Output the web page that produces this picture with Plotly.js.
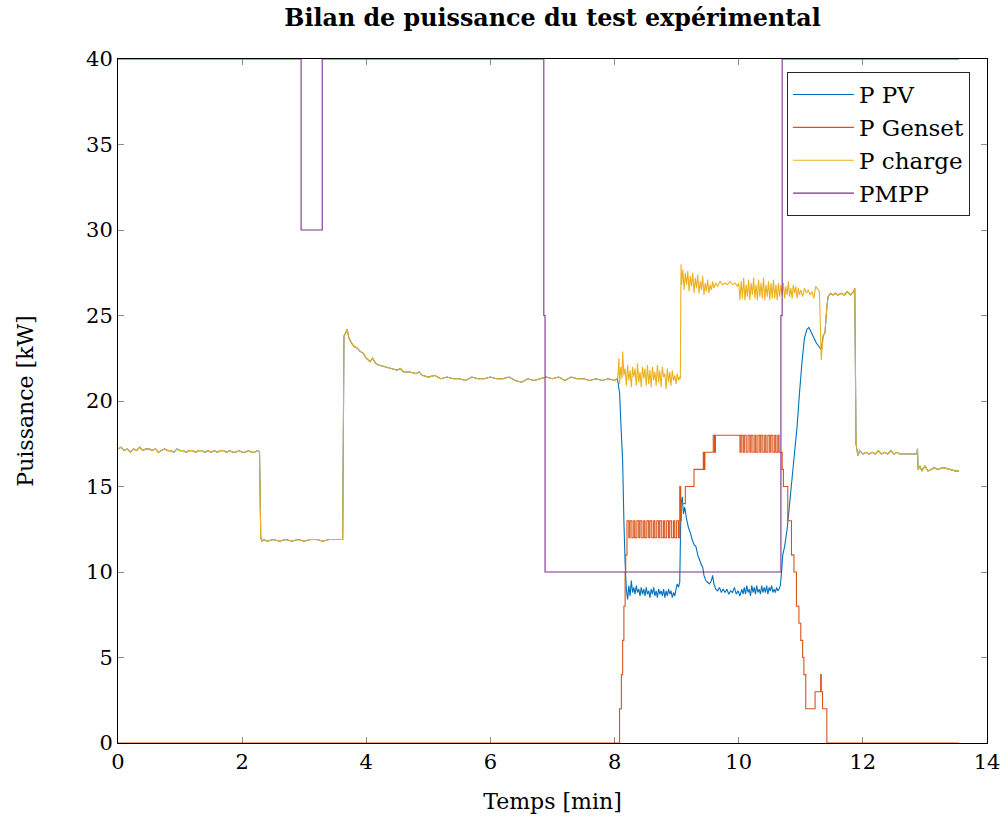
<!DOCTYPE html>
<html>
<head>
<meta charset="utf-8">
<script src="https://cdn.plot.ly/plotly-3.0.1.min.js"></script>
<style>html,body{margin:0;padding:0;background:#fff;}#chart{width:1003px;height:822px;}</style>
</head>
<body>
<div id="chart"></div>
<script>
// ---- Data ----
// Shared segment: PV and load are identical before the genset starts (time in min, power in kW)
const commonEarlyT = [0,0.05,0.1,0.15,0.2,0.25,0.3,0.35,0.4,0.45,0.5,0.55,0.6,0.65,0.7,0.75,0.8,0.85,0.9,0.95,1.0,1.05,1.1,1.15,1.2,1.25,1.3,1.35,1.4,1.45,1.5,1.55,1.6,1.65,1.7,1.75,1.8,1.85,1.9,1.95,2.0,2.05,2.1,2.15,2.2,2.25,2.28,
  2.30,2.32,2.35,2.4,2.5,2.6,2.7,2.8,2.9,3.0,3.1,3.2,3.3,3.4,3.5,3.6,3.62,
  3.64,3.67,3.69,3.72,3.76,3.80,3.85,3.90,3.95,4.0,4.06,4.10,4.15,4.2,4.3,4.4,4.5,4.55,4.6,4.7,4.8,4.85,4.9,5.0,5.1,5.2,5.3,5.4,5.5,5.6,5.7,5.8,5.9,6.0,6.1,6.2,6.3,6.4,6.5,6.6,6.7,6.8,6.9,7.0,7.1,7.2,7.3,7.4,7.5,7.6,7.7,7.8,7.9,8.0,8.04];
const commonEarlyP = [17.2,17.3,17.1,17.2,17.0,17.2,17.1,17.3,17.1,17.2,17.2,17.1,17.2,17.0,17.1,17.2,17.1,17.1,17.0,17.2,17.1,17.1,17.0,17.1,17.1,17.0,17.1,17.1,17.0,17.1,17.0,17.1,17.0,17.1,17.1,17.0,17.1,17.0,17.0,17.1,17.0,17.0,17.1,17.0,17.0,17.1,17.0,
  12.0,11.8,11.9,11.8,11.9,11.8,11.9,11.8,11.9,11.8,11.9,11.9,11.8,11.9,11.9,11.9,11.9,
  23.8,24.0,24.2,23.7,23.4,23.2,23.1,22.9,22.8,22.5,22.3,22.5,22.2,22.1,22.0,21.9,21.8,21.9,21.7,21.7,21.6,21.7,21.5,21.4,21.5,21.3,21.4,21.3,21.3,21.2,21.4,21.3,21.3,21.4,21.3,21.3,21.4,21.2,21.1,21.3,21.2,21.3,21.4,21.3,21.4,21.2,21.4,21.3,21.3,21.2,21.3,21.2,21.3,21.2,21.3];

// Shared segment after the genset stops
const commonLateT = [11.44,11.48,11.52,11.56,11.6,11.65,11.7,11.75,11.8,11.85,11.87,11.89,11.92,11.95,12.0,12.05,12.1,12.15,12.2,12.25,12.3,12.35,12.4,12.45,12.5,12.55,12.6,12.7,12.8,12.87,12.88,12.89,12.92,12.95,13.0,13.05,13.1,13.15,13.2,13.3,13.4,13.5,13.55];
const commonLateP = [26.1,26.3,26.2,26.3,26.2,26.3,26.2,26.4,26.2,26.4,26.6,17.5,16.8,17.1,16.9,17.0,16.9,17.0,16.9,17.1,16.9,17.0,16.9,17.1,16.9,17.0,16.9,16.9,16.9,16.9,17.2,16.0,16.2,15.9,16.2,15.9,16.0,16.1,16.0,16.1,16.0,15.9,15.9];

// P PV, middle segment
const pvMidT = [8.05,8.08,8.11,8.13,8.15,8.17,8.19,8.21,8.23,8.25,8.27,8.29,8.31,8.33,8.35,8.37,8.39,8.41,8.43,8.45,8.47,8.49,8.51,8.53,8.55,8.57,8.59,8.61,8.63,8.65,8.67,8.69,8.71,8.73,8.75,8.77,8.79,8.81,8.83,8.85,8.87,8.89,8.91,8.93,8.95,8.97,8.99,9.01,9.03,9.05,
  9.07,9.09,9.11,9.13,9.16,9.19,9.22,9.25,9.28,9.31,9.34,9.37,9.40,9.42,9.44,9.47,9.50,9.53,9.56,9.58,9.60,9.63,9.66,9.69,9.72,9.75,9.78,9.81,9.84,9.87,9.90,9.93,9.96,9.99,
  10.02,10.05,10.07,10.09,10.11,10.13,10.15,10.17,10.19,10.21,10.23,10.25,10.27,10.29,10.31,10.33,10.35,10.37,10.39,10.41,10.43,10.45,10.47,10.49,10.51,10.53,10.55,10.57,10.59,10.61,10.63,10.65,10.67,
  10.69,10.71,10.74,10.78,10.82,10.86,10.90,10.94,10.98,11.02,11.06,11.10,11.13,11.17,11.21,11.25,11.29,11.33,11.36,11.39,11.42];
const pvMidP = [21.2,20.5,18.0,16.5,13.0,10.5,9.0,8.4,9.2,8.6,9.5,8.8,9.1,8.7,9.2,8.8,9.0,8.6,9.1,8.7,9.0,8.6,9.1,8.7,8.9,8.5,9.0,8.7,9.1,8.6,8.9,8.5,9.0,8.7,8.9,8.6,9.0,8.5,8.9,8.6,9.0,8.7,8.9,8.5,8.8,8.6,9.0,9.3,9.1,9.4,
  14.0,14.4,13.4,13.8,13.1,12.6,12.3,11.9,11.6,11.5,11.0,10.7,10.4,10.3,9.8,9.5,9.4,9.3,9.5,9.8,9.3,9.0,8.9,9.1,8.8,9.0,8.8,9.0,8.7,8.9,8.8,9.1,8.7,8.9,
  8.6,9.0,8.7,9.1,8.7,9.2,8.8,9.0,8.6,9.2,8.8,9.1,8.7,9.2,8.8,9.0,8.7,9.2,8.8,9.1,8.8,9.2,8.7,9.1,8.9,9.2,8.8,9.0,8.8,9.1,8.9,9.0,9.2,
  10.0,11.0,11.5,12.5,14.0,15.5,17.0,18.5,20.5,22.3,23.7,24.2,24.3,24.0,23.7,23.4,23.2,23.0,23.8,24.0,25.5];

// P charge (load), middle segment
const loadMidT = [8.05,8.07,8.08,8.10,8.12,8.13,8.15,8.17,8.19,8.21,8.23,8.25,8.27,8.29,8.31,8.33,8.35,8.37,8.39,8.41,8.43,8.45,8.47,8.49,8.51,8.53,8.55,8.57,8.59,8.61,8.63,8.65,8.67,8.69,8.71,8.73,8.75,8.77,8.79,8.81,8.83,8.85,8.87,8.89,8.91,8.93,8.95,8.97,8.99,9.01,9.03,9.05,9.06,
  9.07,9.08,9.10,9.12,9.14,9.16,9.18,9.20,9.22,9.24,9.26,9.28,9.30,9.32,9.34,9.36,9.38,9.40,9.42,9.44,9.46,9.48,9.50,9.52,9.54,9.56,9.58,9.60,9.63,9.66,9.70,9.74,9.78,9.82,9.86,9.90,9.94,9.98,10.00,
  10.02,10.04,10.06,10.08,10.10,10.12,10.14,10.16,10.18,10.20,10.22,10.24,10.26,10.28,10.30,10.32,10.34,10.36,10.38,10.40,10.42,10.44,10.46,10.48,10.50,10.52,10.54,10.56,10.58,10.60,10.62,10.64,10.66,
  10.68,10.70,10.72,10.74,10.76,10.78,10.80,10.82,10.84,10.86,10.88,10.90,10.92,10.94,10.96,10.98,11.00,11.03,11.06,11.09,11.12,11.15,11.18,11.21,11.24,11.28,11.30,11.33,11.36,11.39,11.42];
const loadMidP = [21.3,22.5,21.0,22.0,21.3,22.9,21.5,21.9,20.9,22.1,21.2,21.8,20.8,22.0,21.4,21.9,20.9,22.2,21.1,21.7,20.8,22.0,21.3,21.9,20.9,22.1,21.0,21.8,20.8,22.0,21.2,21.7,20.9,22.1,21.1,21.8,20.8,22.0,21.4,21.6,20.7,21.9,21.1,21.7,20.9,21.8,21.2,21.5,21.0,21.6,21.2,21.4,21.3,
  28.0,26.8,27.7,26.5,27.5,26.8,27.6,26.4,27.3,26.7,27.5,26.3,27.2,26.6,27.4,26.3,27.0,26.5,27.3,26.2,26.9,26.4,27.1,26.3,26.8,26.5,27.0,26.6,26.9,26.7,27.0,26.8,26.9,26.8,27.0,26.8,26.9,26.7,26.9,
  25.9,27.0,26.0,27.2,25.9,26.8,26.1,27.1,25.9,26.9,26.2,27.2,26.0,26.8,25.9,27.1,26.1,26.9,26.0,27.2,25.9,26.8,26.1,27.0,25.9,26.9,26.0,27.1,26.0,26.8,25.9,26.9,26.1,
  26.8,26.2,26.9,26.0,26.7,26.2,27.0,26.1,26.6,26.0,26.8,26.3,26.7,26.0,26.6,26.2,26.5,26.1,26.6,26.3,26.5,26.2,26.4,26.0,26.7,26.5,26.4,22.4,23.8,24.0,25.5];

// P Genset (quantised steps, drawn as horizontal-then-vertical steps)
const gensetT = [
  0,8.08,8.11,8.13,8.15,8.17,8.18,
  8.20,8.23,8.25,8.28,8.31,8.33,8.36,8.39,
  8.41,8.44,8.47,8.49,8.52,8.55,8.57,8.60,
  8.63,8.65,8.68,8.71,8.73,8.76,8.79,8.81,
  8.84,8.87,8.89,8.92,8.95,8.97,9.00,9.03,
  9.05,9.065,9.075,9.14,9.28,9.43,9.445,9.455,9.59,9.61,9.625,
  10.02,10.04,10.07,10.09,10.12,10.15,10.18,10.20,
  10.23,10.26,10.28,10.31,10.34,10.36,10.39,10.42,
  10.44,10.47,10.50,10.52,10.55,10.58,10.60,10.63,
  10.65,
  10.70,10.72,10.79,10.85,10.89,10.93,10.97,11.00,11.03,11.05,11.08,11.23,11.32,11.33,11.35,11.42,13.55];
const gensetP = [
  0,2,4,6,8,10,11,
  13,12,13,12,13,12,13,12,
  13,12,13,12,13,12,13,12,
  13,12,13,12,13,12,13,12,
  13,12,13,12,13,12,13,12,
  15,13,14,15,16,17,16,17,18,17,18,
  17,18,17,18,17,18,17,18,
  17,18,17,18,17,18,17,18,
  17,18,17,18,17,18,17,18,
  17,
  16,15,13,11,10,8,7,6,5,4,2,3,4,3,2,0,0];

// PMPP setpoint
const pmppT = [0,2.95,3.29,6.86,6.88,10.68,10.70,13.55];
const pmppP = [40,30,40,25,10,25,40,40];

// Labels
const seriesNames = ['P PV','P Genset','P charge','PMPP'];
const seriesColors = ['#0072BD','#D95319','#EDB120','#7E2F8E'];
const xTicks = [0,2,4,6,8,10,12,14];
const yTicks = [0,5,10,15,20,25,30,35,40];

// ---- Build traces ----
const pvT = commonEarlyT.concat(pvMidT, commonLateT);
const pvP = commonEarlyP.concat(pvMidP, commonLateP);
const loadT = commonEarlyT.concat(loadMidT, commonLateT);
const loadP = commonEarlyP.concat(loadMidP, commonLateP);

const font = 'DejaVu Serif, Liberation Serif, serif';
const mk = (x, y, i, shape) => ({
  x, y, type: 'scatter', mode: 'lines', name: seriesNames[i],
  line: {color: seriesColors[i], width: 1.1, shape: shape || 'linear', simplify: false},
  cliponaxis: false
});
const traces = [
  mk(pvT, pvP, 0),
  mk(gensetT, gensetP, 1, 'hv'),
  mk(loadT, loadP, 2),
  mk(pmppT, pmppP, 3, 'hv')
];

const axisCommon = {
  showgrid: false, zeroline: false, showline: true, linecolor: '#000', linewidth: 1,
  mirror: 'ticks', ticks: 'inside', ticklen: 6, tickcolor: '#8c8c8c', tickwidth: 1,
  tickfont: {family: font, size: 21, color: '#000'}, layer: 'below traces'
};

const layout = {
  width: 1003, height: 822,
  margin: {l: 118, r: 16, t: 59, b: 79},
  paper_bgcolor: '#fff', plot_bgcolor: '#fff',
  title: {text: '<b>Bilan de puissance du test expérimental</b>', font: {family: font, size: 23.8, color: '#000'},
          x: 0.5, xref: 'paper', y: 0.978, yref: 'container', yanchor: 'middle'},
  xaxis: Object.assign({}, axisCommon, {range: [0, 14], tickvals: xTicks, ticktext: xTicks.map(String),
    title: {text: 'Temps [min]', font: {family: font, size: 22, color: '#000'}, standoff: 20}}),
  yaxis: Object.assign({}, axisCommon, {range: [0, 40], tickvals: yTicks, ticktext: yTicks.map(String),
    title: {text: 'Puissance [kW]', font: {family: font, size: 22, color: '#000'}, standoff: 46}}),
  showlegend: true,
  legend: {x: 0.9804, xanchor: 'right', y: 0.981, yanchor: 'top', bgcolor: '#fff',
    bordercolor: '#262626', borderwidth: 1, font: {family: font, size: 23, color: '#000'},
    tracegroupgap: 0, itemwidth: 61}
};

Plotly.newPlot('chart', traces, layout, {displayModeBar: false, staticPlot: true});
</script>
</body>
</html>
